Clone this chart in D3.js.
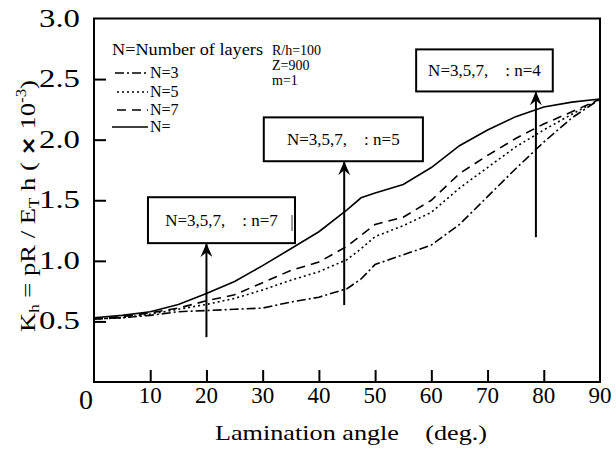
<!DOCTYPE html>
<html><head><meta charset="utf-8">
<script src="https://cdn.jsdelivr.net/npm/d3@7"></script>
<style>
html,body{margin:0;padding:0;background:#fff;}
svg{display:block;font-family:"Liberation Serif","Times New Roman",serif;}
</style></head>
<body><svg id="c" width="616" height="454"></svg>
<script>
// ---- data ----
const angles = [0,5,10,15,20,25,30,35,40,45,47.5,50,55,60,65,70,75,80,85,90];
const n3   = [0.52,0.53,0.55,0.58,0.59,0.60,0.61,0.66,0.70,0.77,0.85,0.97,1.05,1.13,1.30,1.53,1.76,1.98,2.18,2.335];
const n5   = [0.52,0.53,0.56,0.60,0.64,0.69,0.76,0.84,0.91,1.01,1.10,1.20,1.29,1.40,1.60,1.77,1.94,2.08,2.21,2.335];
const n7   = [0.52,0.54,0.57,0.61,0.67,0.72,0.82,0.92,0.99,1.12,1.21,1.30,1.36,1.50,1.72,1.87,2.01,2.13,2.23,2.335];
const ninf = [0.53,0.55,0.58,0.64,0.73,0.83,0.96,1.10,1.24,1.42,1.52,1.56,1.63,1.77,1.95,2.08,2.19,2.27,2.31,2.335];
const xTicks = [10,20,30,40,50,60,70,80,90];
const yTicks = [0.5,1.0,1.5,2.0,2.5,3.0];
const seriesNames = ["N=3","N=5","N=7","N="];
const boxLabels = ["N=3,5,7,    : n=7","N=3,5,7,    : n=5","N=3,5,7,    : n=4"];
// annotation boxes [x0,x1,y0,y1] in data units, arrows [x, yFrom]
const boxX0 = [9.6,30.2,57.3], boxX1 = [35.75,58.5,81.6];
const boxY0 = [1.525,2.184,2.745], boxY1 = [1.146,1.822,2.398];
const arrowX = [20,44.5,78.6], arrowFrom = [0.37,0.635,1.195];

// ---- layout ----
const svg = d3.select("#c");
const x = d3.scaleLinear().domain([0,90]).range([94,600]);
const y = d3.scaleLinear().domain([0,3]).range([382,18.5]);
const ink = "#000";

// frame
svg.append("rect").attr("x",x(0)).attr("y",y(3)).attr("width",x(90)-x(0)).attr("height",y(0)-y(3))
  .attr("fill","none").attr("stroke",ink).attr("stroke-width",2);

// axes with inward ticks
const xAxis = d3.axisBottom(x).tickValues(xTicks.slice(0,-1)).tickSize(-12).tickFormat("");
const gx = svg.append("g").attr("transform",`translate(0,${y(0)})`).call(xAxis);
const yAxis = d3.axisLeft(y).tickValues(yTicks.slice(0,-1)).tickSize(-12).tickFormat("");
const gy = svg.append("g").attr("transform",`translate(${x(0)},0)`).call(yAxis);
[gx,gy].forEach(g=>{g.select(".domain").remove();g.selectAll("line").attr("stroke",ink).attr("stroke-width",2);});

// tick labels
svg.append("g").selectAll("text").data(xTicks).join("text")
  .attr("x",d=>x(d)).attr("y",y(0)+21).attr("text-anchor","middle")
  .attr("font-size",23).text(d=>d);
svg.append("g").selectAll("text").data(yTicks).join("text")
  .attr("x",80).attr("y",d=>y(d)+8).attr("text-anchor","end")
  .attr("font-size",25).attr("textLength",41).attr("lengthAdjust","spacingAndGlyphs").text(d=>d.toFixed(1));
svg.append("text").attr("x",86).attr("y",y(0)+27).attr("text-anchor","middle").attr("font-size",28).text("0");

// axis titles
svg.append("text").attr("x",215).attr("y",440).attr("font-size",21)
  .attr("textLength",272).attr("lengthAdjust","spacingAndGlyphs")
  .style("white-space","pre").text("Lamination angle    (deg.)");
const yt = svg.append("text").attr("transform","translate(35,332) rotate(-90)").attr("font-size",22)
  .attr("textLength",252).attr("lengthAdjust","spacingAndGlyphs");
yt.append("tspan").text("K");
yt.append("tspan").attr("font-size",14).attr("dy",4).text("h");
yt.append("tspan").attr("dy",-4).text(" = pR / E");
yt.append("tspan").attr("font-size",14).attr("dy",4).text("T");
yt.append("tspan").attr("dy",-4).text(" h  ( ");
yt.append("tspan").attr("font-family","DejaVu Sans").attr("font-weight","bold").attr("font-size",19).text("×");
yt.append("tspan").text(" 10");
yt.append("tspan").attr("font-size",14).attr("dy",-9).text("-3");
yt.append("tspan").attr("dy",9).text(")");

// curves
const dashes = ["9,3,2,3","2,3","9,6",null];
const data = [n3,n5,n7,ninf];
const line = d3.line().x(d=>x(d[0])).y(d=>y(d[1]));
data.forEach((s,i)=>{
  svg.append("path").datum(angles.map((a,j)=>[a,s[j]]))
    .attr("d",line).attr("fill","none").attr("stroke",ink).attr("stroke-width",1.6)
    .attr("stroke-dasharray",dashes[i]);
});

// legend
svg.append("text").attr("x",112).attr("y",55).attr("font-size",16)
  .attr("textLength",151).attr("lengthAdjust","spacingAndGlyphs").text("N=Number of layers");
const legY = [73,92,110,127];
const legX0 = [115,117,117,112];
seriesNames.forEach((nm,i)=>{
  svg.append("line").attr("x1",legX0[i]).attr("x2",148).attr("y1",legY[i]).attr("y2",legY[i])
    .attr("stroke",ink).attr("stroke-width",1.6).attr("stroke-dasharray",dashes[i]);
  svg.append("text").attr("x",150).attr("y",legY[i]+5).attr("font-size",16).text(nm);
});
["R/h=100","Z=900","m=1"].forEach((t,i)=>{
  svg.append("text").attr("x",272).attr("y",55+i*15).attr("font-size",14).text(t);
});

// annotation boxes + arrows
const defs = svg.append("defs");
defs.append("marker").attr("id","ah").attr("viewBox","0 0 14 12").attr("refX",13).attr("refY",6)
  .attr("markerWidth",14).attr("markerHeight",12).attr("markerUnits","userSpaceOnUse").attr("orient","auto")
  .append("path").attr("d","M14,6 L0,0 L5,6 L0,12 Z").attr("fill",ink);
boxLabels.forEach((t,i)=>{
  const bx=x(boxX0[i]), by=y(boxY0[i]), bw=x(boxX1[i])-x(boxX0[i]), bh=y(boxY1[i])-y(boxY0[i]);
  svg.append("line").attr("x1",x(arrowX[i])).attr("x2",x(arrowX[i])).attr("y1",y(arrowFrom[i])).attr("y2",y(boxY1[i])+1)
    .attr("stroke",ink).attr("stroke-width",2).attr("marker-end","url(#ah)");
  svg.append("rect").attr("x",bx).attr("y",by).attr("width",bw).attr("height",bh)
    .attr("fill","#fff").attr("stroke",ink).attr("stroke-width",2);
  svg.append("text").attr("x",bx+bw/2).attr("y",by+bh/2+6).attr("text-anchor","middle").attr("font-size",17)
    .style("white-space","pre").text(t);
});
// stray cursor mark after "n=7"
svg.append("line").attr("x1",292).attr("x2",292).attr("y1",215).attr("y2",231).attr("stroke",ink).attr("stroke-width",0.8);
</script></body></html>
